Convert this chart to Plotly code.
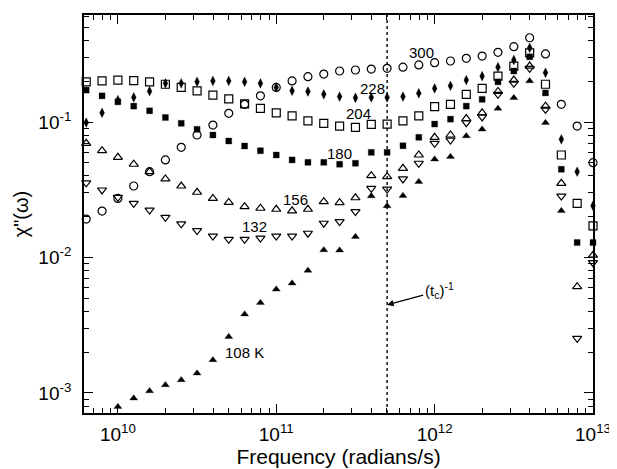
import math
import plotly.graph_objects as go

# log10 of frequency (radians/s) for each measured column
LOG_FREQ = [9.8, 9.9, 10.0, 10.1, 10.2, 10.3, 10.4, 10.5, 10.6, 10.7, 10.8,
            10.9, 11.0, 11.1, 11.2, 11.3, 11.4, 11.5, 11.6, 11.7, 11.8, 11.9,
            12.0, 12.1, 12.2, 12.3, 12.4, 12.5, 12.6, 12.7, 12.8, 12.9, 13.0]
FREQ = [10 ** v for v in LOG_FREQ]

chi_300 = [0.0192, 0.0220, 0.0273, 0.0337, 0.0430, 0.0525, 0.0650, 0.0802, 0.0950,
           0.116, 0.135, 0.156, 0.180, 0.201, 0.216, 0.226, 0.238, 0.242, 0.246,
           0.249, 0.254, 0.264, 0.274, 0.282, 0.295, 0.307, 0.327, 0.360, 0.419,
           0.318, 0.135, 0.0934, 0.0501]
chi_228 = [0.099, 0.117, 0.145, 0.152, 0.169, 0.193, 0.193, 0.198, 0.201, 0.201,
           0.198, 0.193, 0.180, 0.170, 0.168, 0.160, 0.154, 0.151, 0.152, 0.152,
           0.154, 0.163, 0.177, 0.185, 0.204, 0.218, 0.254, 0.287, 0.353, 0.231,
           0.0745, 0.0430, 0.0241]
chi_204 = [0.198, 0.201, 0.204, 0.202, 0.198, 0.190, 0.180, 0.170, 0.158, 0.148,
           0.136, 0.126, 0.117, 0.111, 0.102, 0.0978, 0.0934, 0.0914, 0.0962,
           0.0966, 0.102, 0.111, 0.130, 0.135, 0.160, 0.177, 0.218, 0.259, 0.324,
           0.190, 0.0571, 0.0251, 0.0171]
chi_180 = [0.172, 0.156, 0.141, 0.131, 0.121, 0.108, 0.0978, 0.0883, 0.0802,
           0.0724, 0.0665, 0.0614, 0.0571, 0.0525, 0.0504, 0.0504, 0.0488, 0.0496,
           0.0597, 0.0597, 0.0668, 0.0771, 0.0966, 0.105, 0.131, 0.147, 0.198,
           0.238, 0.303, 0.164, 0.0448, 0.0129, 0.0129]
chi_156 = [0.0696, 0.0614, 0.0549, 0.0488, 0.0430, 0.0380, 0.0337, 0.0303, 0.0273,
           0.0255, 0.0237, 0.0231, 0.0227, 0.0221, 0.0227, 0.0258, 0.0254, 0.0276,
           0.0402, 0.0395, 0.0455, 0.0571, 0.0771, 0.0802, 0.106, 0.117, 0.168,
           0.204, 0.259, 0.131, 0.0353, 0.00609, 0.0104]
chi_132 = [0.0356, 0.0315, 0.0278, 0.0251, 0.0224, 0.0198, 0.0177, 0.0158, 0.0144,
           0.0136, 0.0136, 0.0139, 0.0144, 0.0144, 0.0151, 0.0179, 0.0184, 0.0218,
           0.0324, 0.0320, 0.0380, 0.0496, 0.0696, 0.0736, 0.0988, 0.109, 0.160,
           0.193, 0.249, 0.124, 0.0284, 0.00253, 0.00916]
chi_108 = [None, 0.00069, 0.000792, 0.000914, 0.001035, 0.001146, 0.001247,
           0.001397, 0.001753, 0.00260, 0.00381, 0.00464, 0.00582, 0.00645,
           0.00800, 0.01135, 0.0113, 0.01425, 0.0284, 0.0240, 0.0286, 0.0362,
           0.0531, 0.0555, 0.0788, 0.0883, 0.126, 0.151, 0.201, 0.0988, 0.0221,
           None, None]

SERIES = [
    ("300", chi_300, "circle-open", 8, 1.2),
    ("228", chi_228, "diamond-tall", 7, 0.3),
    ("204", chi_204, "square-open", 8, 1.2),
    ("180", chi_180, "square", 6, 0.3),
    ("156", chi_156, "triangle-up-open", 8, 1.2),
    ("132", chi_132, "triangle-down-open", 8, 1.2),
    ("108 K", chi_108, "triangle-up", 7, 0.3),
]

# label positions (log10 freq, log10 chi)
LABELS = [("300", 11.92, -0.49), ("228", 11.61, -0.75), ("204", 11.52, -0.935),
          ("180", 11.40, -1.23), ("156", 11.12, -1.57), ("132", 10.86, -1.77),
          ("108 K", 10.80, -2.70)]

TC_INV = 10 ** 11.7  # (t_c)^-1 marker frequency
X_RANGE = [9.786, 13.0]
Y_RANGE = [-3.148, -0.21]

X_TICKS = [1e10, 1e11, 1e12, 1e13]
X_TICKTEXT = ["10<sup>10</sup>", "10<sup>11</sup>", "10<sup>12</sup>", "10<sup>13</sup>"]
Y_TICKS = [1e-3, 1e-2, 1e-1]
Y_TICKTEXT = ["10<sup>-3</sup>", "10<sup>-2</sup>", "10<sup>-1</sup>"]

x_minor = [m * 10 ** d for d in range(9, 13) for m in range(2, 10)]
y_minor = [m * 10 ** d for d in range(-4, 0) for m in range(2, 10)]

FONT = "Liberation Sans, Arial, Helvetica, sans-serif"

fig = go.Figure()

# dotted vertical line at (t_c)^-1
fig.add_trace(go.Scatter(
    x=[TC_INV, TC_INV], y=[10 ** Y_RANGE[0], 10 ** Y_RANGE[1]], mode="lines",
    line=dict(color="black", width=1.4, dash="dot"), hoverinfo="skip",
    cliponaxis=True,
))

for name, vals, sym, size, lw in SERIES:
    fig.add_trace(go.Scatter(
        x=FREQ, y=vals, mode="markers", name=name, cliponaxis=False,
        marker=dict(symbol=sym, size=size, color="black",
                    line=dict(color="black", width=lw)),
    ))

for txt, lx, ly in LABELS:
    fig.add_annotation(x=lx, y=ly, text=txt, showarrow=False,
                       font=dict(family=FONT, size=15, color="black"))

fig.add_annotation(x=math.log10(TC_INV), y=-2.35,
                   text="(t<sub>c</sub>)<sup>-1</sup>",
                   showarrow=True, ax=52, ay=-14, arrowhead=2, arrowsize=1,
                   arrowwidth=1.3, arrowcolor="black", standoff=0,
                   font=dict(family=FONT, size=15, color="black"))

axis_common = dict(
    type="log", showgrid=False, zeroline=False, showline=True,
    linecolor="black", linewidth=1.8, mirror="allticks",
    ticks="inside", ticklen=9, tickwidth=1.3, tickcolor="black",
    tickfont=dict(family=FONT, size=19, color="black"),
    tickmode="array", automargin=False,
)

fig.update_xaxes(
    **axis_common, range=X_RANGE, tickvals=X_TICKS, ticktext=X_TICKTEXT,
    ticklabelstandoff=3,
    minor=dict(tickmode="array", tickvals=x_minor, ticks="inside", ticklen=5,
               tickwidth=1.1, tickcolor="black", showgrid=False),
    title=dict(text="Frequency (radians/s)", standoff=2,
               font=dict(family=FONT, size=21, color="black")),
)
fig.update_yaxes(
    **axis_common, range=Y_RANGE, tickvals=Y_TICKS, ticktext=Y_TICKTEXT,
    ticklabelstandoff=7,
    minor=dict(tickmode="array", tickvals=y_minor, ticks="inside", ticklen=5,
               tickwidth=1.1, tickcolor="black", showgrid=False),
    title=dict(text="χ\"(ω)", standoff=4,
               font=dict(family=FONT, size=20, color="black")),
)

# the page body adds an 8px margin, so the figure is 8px smaller on each axis
fig.update_layout(
    width=609, height=461,
    margin=dict(l=76, r=24, t=7, b=56),
    paper_bgcolor="white", plot_bgcolor="white",
    showlegend=False,
    font=dict(family=FONT, color="black"),
)

fig.write_html("out.html")
